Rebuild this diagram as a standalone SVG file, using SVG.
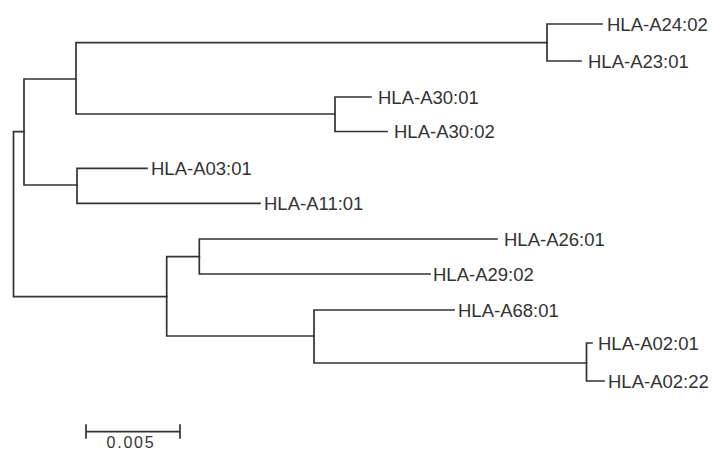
<svg xmlns="http://www.w3.org/2000/svg" width="713" height="452" viewBox="0 0 713 452">
<style>
.e{fill:none;stroke:#333333;stroke-width:1.7;stroke-linecap:square}
.t{font-family:"Liberation Sans",Arial,sans-serif;font-size:18.5px;fill:#333333}
.s{font-family:"Liberation Sans",Arial,sans-serif;font-size:16px;fill:#333333;letter-spacing:1.8px}
</style>
<rect width="713" height="452" fill="#ffffff"/>
<g id="connectors">
<path class="e" d="M24 131.7H13.5V296.7H166.7"/>
<path class="e" d="M76 79H24V185H77"/>
<path class="e" d="M547 42.7H76V114H335"/>
<path class="e" d="M602 24H547V61H581"/>
<path class="e" d="M371 97H335V131.5H387"/>
<path class="e" d="M147 168.3H77V203.3H260"/>
<path class="e" d="M199.3 256.7H166.7V336H314"/>
<path class="e" d="M497 239H199.3V274H430"/>
<path class="e" d="M454 310H314V363H586.5"/>
<path class="e" d="M592 343H586.5V381H604"/>
</g>
<g id="A24_02"><text class="t" x="607" y="30.5">HLA-A24:02</text></g>
<g id="A23_01"><text class="t" x="588" y="67.5">HLA-A23:01</text></g>
<g id="A30_01"><text class="t" x="378" y="103.5">HLA-A30:01</text></g>
<g id="A30_02"><text class="t" x="394" y="138">HLA-A30:02</text></g>
<g id="A03_01"><text class="t" x="151" y="174.8">HLA-A03:01</text></g>
<g id="A11_01"><text class="t" x="264" y="209.8">HLA-A11:01</text></g>
<g id="A26_01"><text class="t" x="504" y="245.5">HLA-A26:01</text></g>
<g id="A29_02"><text class="t" x="433" y="280.5">HLA-A29:02</text></g>
<g id="A68_01"><text class="t" x="458" y="316.5">HLA-A68:01</text></g>
<g id="A02_01"><text class="t" x="598" y="349.5">HLA-A02:01</text></g>
<g id="A02_22"><text class="t" x="608" y="387.5">HLA-A02:22</text></g>
<g id="scale">
<path class="e" d="M86 425V438M86 431.7H180M180 425V438"/>
<text class="s" x="131" y="447.5" text-anchor="middle">0.005</text>
</g>
</svg>
